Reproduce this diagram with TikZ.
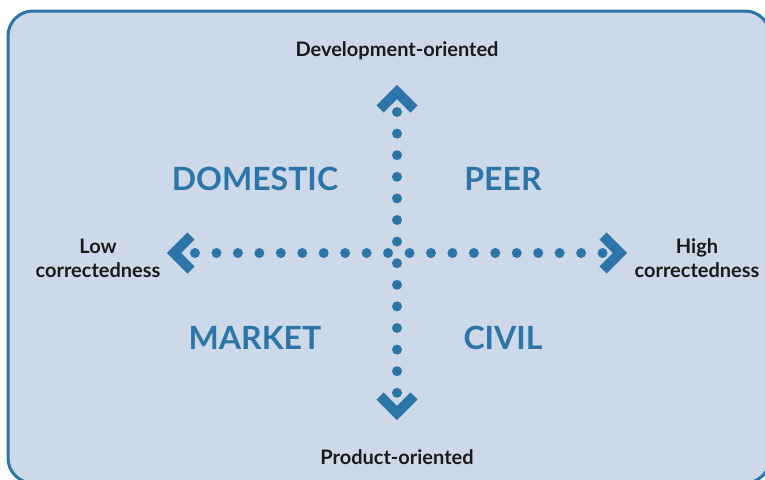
\documentclass[tikz,border=0pt]{standalone}
\usepackage{fontspec}
\setmainfont{Lato}
\definecolor{axisblue}{HTML}{2C75A8}
\definecolor{panelfill}{HTML}{CDD9E8}
\definecolor{labelink}{HTML}{1A1A1A}
\tikzset{
  axislabel/.style={text=labelink,font=\bfseries\fontsize{20}{24}\selectfont,align=center},
  quadrant/.style={text=axisblue,font=\bfseries\fontsize{32}{36}\selectfont},
  dotline/.style={draw=axisblue,line width=10pt,line cap=round,dash pattern=on 0pt off #1},
  chevron/.style={draw=axisblue,line width=10pt,miter limit=10}
}
\begin{document}
\begin{tikzpicture}[x=1pt,y=-1pt]
\useasboundingbox (0,0) rectangle (765,479);
\draw[axisblue,fill=panelfill,line width=3pt,rounded corners=25pt] (8,11) rectangle (770,483);

% ends of the two dotted axes
\coordinate (top) at (397,112);
\coordinate (bottom) at (397,393);
\coordinate (left) at (195,253);
\coordinate (right) at (603,253);

\path[dotline=21.6pt] (top) -- (bottom);
\path[dotline=21.45pt] (left) -- (right);

% arrow heads
\draw[chevron] (top) ++(-17,-3) -- ++(17,-17) -- ++(17,17);
\draw[chevron] (bottom) ++(-17,3) -- ++(17,17) -- ++(17,-17);
\draw[chevron] (left) ++(-4,-17) -- ++(-17,17) -- ++(17,17);
\draw[chevron] (right) ++(0,-17) -- ++(17,17) -- ++(-17,17);

\node[axislabel] (devlabel) at (397,51) {Development-oriented};
\node[axislabel] (prodlabel) at (397,457) {Product-oriented};
\node[axislabel] (lowlabel) at (98,258) {Low\\correctedness};
\node[axislabel] (highlabel) at (697,258) {High\\correctedness};

\node[quadrant] (domestic) at (255,179) {DOMESTIC};
\node[quadrant] (peer) at (503,179) {PEER};
\node[quadrant] (market) at (255,338) {MARKET};
\node[quadrant] (civil) at (503,338) {CIVIL};
\end{tikzpicture}
\end{document}
